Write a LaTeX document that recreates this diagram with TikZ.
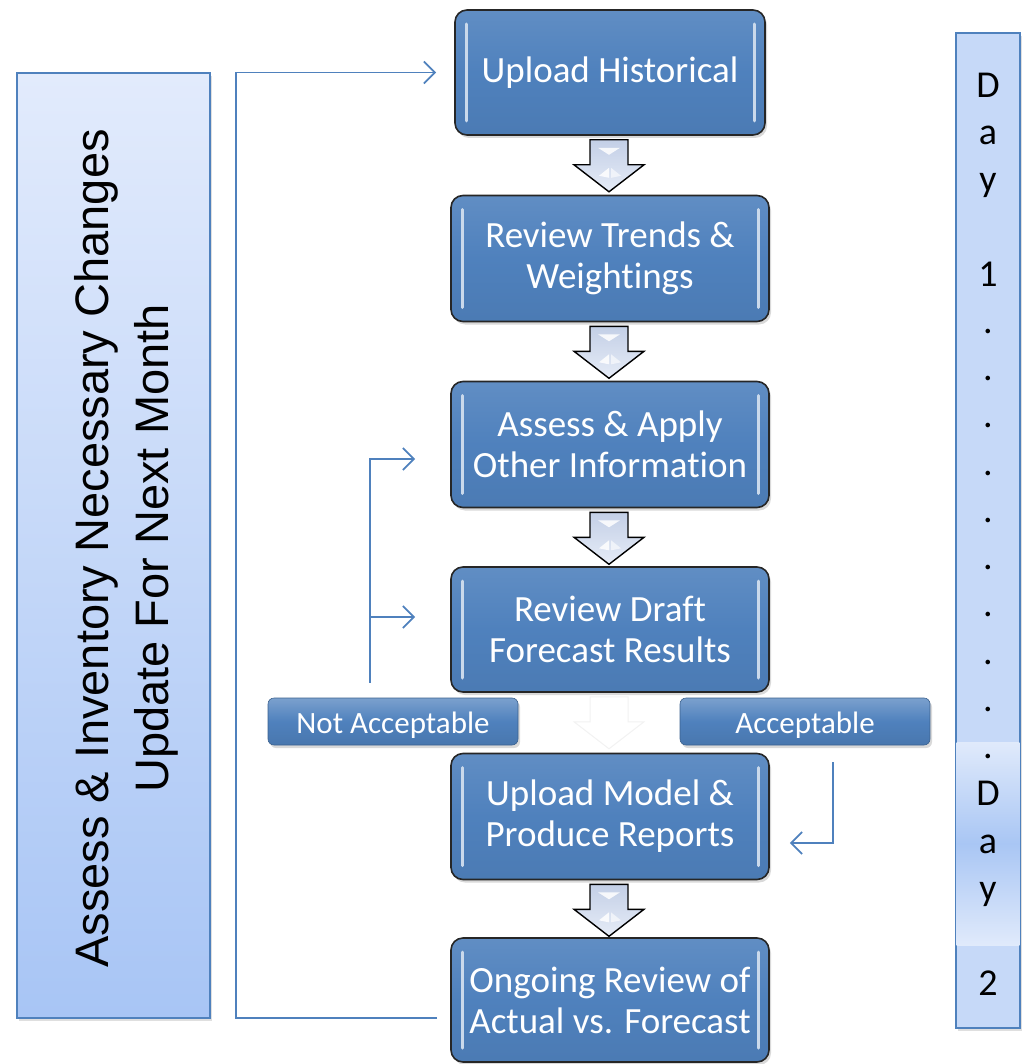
\documentclass[tikz,border=0pt]{standalone}
\usepackage{fontspec}
\setmainfont[Ligatures=NoCommon]{Carlito}
\newfontfamily\sidefont{Liberation Sans}
\usetikzlibrary{shadows,arrows.meta,calc}

\definecolor{boxblue}{HTML}{4F81BD}
\definecolor{sidetop}{HTML}{E2EBFC}
\definecolor{sidebot}{HTML}{A8C5F5}
\definecolor{daybg}{HTML}{C6D9F8}
\definecolor{dayband}{HTML}{A9C6F4}
\definecolor{dayhi}{HTML}{E0EAFB}
\definecolor{arrowtop}{HTML}{C3CFE6}
\definecolor{arrowbot}{HTML}{E6ECF7}

\tikzset{
  stepbox/.style={rectangle, rounded corners=12pt, draw=black!85, line width=1.6pt,
    top color=boxblue!90!white, bottom color=boxblue!95!black, middle color=boxblue,
    text=white, font=\fontsize{37}{41}\selectfont, align=center,
    minimum width=318pt, minimum height=126pt, inner sep=0pt,
    drop shadow={shadow xshift=2pt, shadow yshift=-3pt, opacity=0.3},
    path picture={
      \draw[white!70!boxblue, line width=3pt, line cap=round]
        ($(path picture bounding box.north west)+(11pt,-14pt)$) --
        ($(path picture bounding box.south west)+(11pt,14pt)$);
      \draw[white!70!boxblue, line width=3pt, line cap=round]
        ($(path picture bounding box.north east)+(-11pt,-14pt)$) --
        ($(path picture bounding box.south east)+(-11pt,14pt)$);
    }},
  choicebox/.style={rectangle, rounded corners=6pt, draw=boxblue!75!black, line width=0.6pt,
    top color=boxblue!75!white, bottom color=boxblue!92!black, middle color=boxblue,
    text=white, font=\fontsize{31}{34}\selectfont, text height=24pt, text depth=0pt,
    minimum width=250pt, minimum height=47pt, inner sep=0pt,
    drop shadow={shadow xshift=2pt, shadow yshift=-3pt, opacity=0.3}},
  link/.style={draw=boxblue, line width=1.8pt,
    -{Straight Barb[length=11pt,width=22pt,line width=1.8pt]}},
  downarrow/.style={draw=black, line width=1.4pt, line join=miter,
    top color=arrowtop, bottom color=arrowbot},
  fadedarrow/.style={draw=black!5, line width=1pt, fill=white}
}

% outline of the block arrow hanging below a step box
\newcommand\arrowoutline[2]{%
  \draw[#1] ($(#2.south)+(-20pt,-4pt)$) -- ++(38pt,0) -- ++(0,-25pt) -- ++(16pt,0)
    -- ++(-35pt,-27pt) -- ++(-35pt,27pt) -- ++(16pt,0) -- cycle;}
% shaded block arrow with glossy highlights
\newcommand\flowarrow[1]{%
  \arrowoutline{downarrow}{#1}
  \fill[white, opacity=0.85] ($(#1.south)+(-12pt,-12pt)$) -- ++(22pt,0) -- ++(-11pt,-7pt) -- cycle;
  \fill[white, opacity=0.85] ($(#1.south)+(-1pt,-32pt)$) -- ++(-10pt,-8pt) -- ++(10pt,-2pt) -- cycle;
  \fill[white, opacity=0.6] ($(#1.south)+(1pt,-32pt)$) -- ++(10pt,-8pt) -- ++(-10pt,-2pt) -- cycle;}
% almost invisible block arrow
\newcommand\fadedflowarrow[1]{\arrowoutline{fadedarrow}{#1}}

\begin{document}
\begin{tikzpicture}[x=1pt,y=-1pt]
\useasboundingbox (0,0) rectangle (1022,1064);

% left side panel
\node[rectangle, draw=boxblue, line width=1.2pt, top color=sidetop, bottom color=sidebot,
  minimum width=193pt, minimum height=945pt, inner sep=0pt,
  drop shadow={shadow xshift=2pt, shadow yshift=-3pt, opacity=0.25}] (side) at (113.5,545.5) {};
\node[rotate=90, align=center, font=\sidefont\fontsize{47}{60}\selectfont, text=black]
  (sidetext) at ($(side.center)+(13pt,-3pt)$) {Assess \& Inventory Necessary Changes\\Update For Next Month};

% right day column
\node[rectangle, draw=boxblue, line width=1.2pt, fill=daybg,
  minimum width=64pt, minimum height=995pt, inner sep=0pt,
  drop shadow={shadow xshift=2pt, shadow yshift=-3pt, opacity=0.25}] (days) at (988,530.5) {};
\shade[top color=dayhi, bottom color=dayhi, middle color=dayband]
  (956.6,742) rectangle (1019.4,945);
\draw[boxblue, line width=1.2pt] (days.north west) rectangle (days.south east);
\node[anchor=base, align=center, font=\fontsize{38}{47.26}\selectfont, text=black, inner sep=0pt]
  (daytext) at (988,995)
  {D\\a\\y\\\mbox{}\\1\\.\\.\\.\\.\\.\\.\\.\\.\\.\\.\\D\\a\\y\\\mbox{}\\2};

% process steps
\node[stepbox, minimum width=310pt, minimum height=125pt] (s1) at (610,72.5) {Upload Historical};
\node[stepbox] (s2) at (610,258.5) {Review Trends \&\\Weightings};
\node[stepbox] (s3) at (610,444.5) {Assess \& Apply\\Other Information};
\node[stepbox, minimum height=125pt] (s4) at (610,629.5) {Review Draft\\Forecast Results};
\node[stepbox] (s5) at (610,816.5) {Upload Model \&\\Produce Reports};
\node[stepbox, minimum height=124pt] (s6) at (610,1000) {Ongoing Review of\\Actual vs. Forecast};

% block arrows between steps
\flowarrow{s1}
\flowarrow{s2}
\flowarrow{s3}
\fadedflowarrow{s4}
\flowarrow{s5}

% decision outcomes
\node[choicebox] (na) at (393,721.5) {Not Acceptable};
\node[choicebox] (ac) at (805,721.5) {Acceptable};

% monthly loop back to the first step
\coordinate (loopend) at ($(s6.west)+(-13pt,-18pt)$);
\coordinate (loopx) at (236,0);
\draw[link] (loopend) -- (loopend -| loopx) |- ($(s1.west)+(-18pt,0)$);

% not acceptable: return to earlier steps
\coordinate (nastart) at ($(na.north)+(-23pt,15pt)$);
\coordinate (t3) at ($(s3.west)+(-35pt,-14.5pt)$);
\coordinate (t4) at ($(s4.west)+(-35pt,12.5pt)$);
\draw[link] (nastart) |- (t3);
\draw[link] (nastart |- t4) -- (t4);

% acceptable: continue to upload
\coordinate (acstart) at ($(ac.south)+(28pt,-17pt)$);
\coordinate (t5) at ($(s5.east)+(20pt,-26.5pt)$);
\draw[link] (acstart) |- (t5);

\end{tikzpicture}
\end{document}
